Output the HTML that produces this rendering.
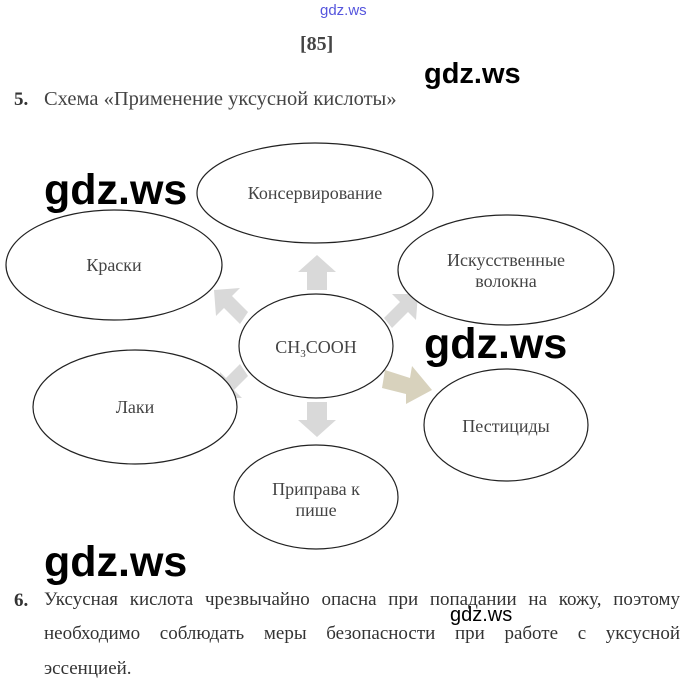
<!DOCTYPE html>
<html><head><meta charset="utf-8"><style>
body{margin:0;width:694px;height:687px;background:#fff;overflow:hidden;position:relative;font-family:"Liberation Serif",serif;color:#333}
.a{position:absolute;white-space:nowrap}
.w{position:absolute;font-family:"Liberation Sans",sans-serif;font-weight:bold;color:#000;white-space:nowrap}
.j{position:absolute;left:44px;width:636px;font-size:19px;text-align:justify;text-align-last:justify;white-space:nowrap;color:#333}
</style></head><body>
<div class="a" style="left:320px;top:2px;font-family:'Liberation Sans',sans-serif;font-size:15px;color:#5555dd">gdz.ws</div>
<div class="a" style="left:300px;top:33px;font-size:20px;font-weight:bold;color:#444">[85]</div>
<div class="w" style="left:424px;top:58px;font-size:29px;font-weight:bold">gdz.ws</div>
<div class="a" style="left:14px;top:89px;font-size:19px;font-weight:bold;color:#333">5.</div>
<div class="a" style="left:44px;top:88px;font-size:20.5px;color:#444">Схема «Применение уксусной кислоты»</div>
<svg class="a" style="left:0;top:0" width="694" height="687">
<g fill="#d9d9d9">
<polygon points="307,290 327,290 327,272 336,272 317,255 298,272 307,272"/>
<polygon points="307,402 327,402 327,420 336,420 317,437 298,420 307,420"/>
<polygon points="248,312 232,296 240,288 214,290 216,316 224,308 240,324"/>
<polygon points="248,376 234,390 242,398 218,398 220,372 226,378 240,364"/>
<polygon points="384,318 400,302 392,294 418,294 416,320 408,312 392,328"/>
</g>
<polygon fill="#d8d2bd" points="385,370 410,378 412,366 432,390 406,404 406,394 382,388"/>
<g fill="#fff" stroke="#222" stroke-width="1.2">
<ellipse cx="315" cy="193" rx="118" ry="50"/>
<ellipse cx="114" cy="265" rx="108" ry="55"/>
<ellipse cx="506" cy="270" rx="108" ry="55"/>
<ellipse cx="316" cy="346" rx="77" ry="52"/>
<ellipse cx="135" cy="407" rx="102" ry="57"/>
<ellipse cx="506" cy="425" rx="82" ry="56"/>
<ellipse cx="316" cy="497" rx="82" ry="52"/>
</g>
<g font-family="Liberation Serif,serif" font-size="18" fill="#444" text-anchor="middle">
<text x="315" y="199">Консервирование</text>
<text x="114" y="271">Краски</text>
<text x="506" y="266">Искусственные</text>
<text x="506" y="287">волокна</text>
<text x="316" y="353">CH<tspan font-size="11" dy="4">3</tspan><tspan dy="-4">COOH</tspan></text>
<text x="135" y="413">Лаки</text>
<text x="506" y="432">Пестициды</text>
<text x="316" y="495">Приправа к</text>
<text x="316" y="516">пише</text>
</g>
</svg>
<div class="w" style="left:44px;top:166px;font-size:43px">gdz.ws</div>
<div class="w" style="left:424px;top:320px;font-size:43px">gdz.ws</div>
<div class="w" style="left:44px;top:538px;font-size:43px">gdz.ws</div>
<div class="a" style="left:14px;top:590px;font-size:19px;font-weight:bold">6.</div>
<div class="j" style="top:589px">Уксусная кислота чрезвычайно опасна при попадании на кожу, поэтому</div>
<div class="j" style="top:623px">необходимо соблюдать меры безопасности при работе с уксусной</div>
<div class="a" style="left:44px;top:658px;font-size:19px">эссенцией.</div>
<div class="w" style="left:450px;top:604px;font-size:20px;font-weight:normal">gdz.ws</div>
</body></html>
